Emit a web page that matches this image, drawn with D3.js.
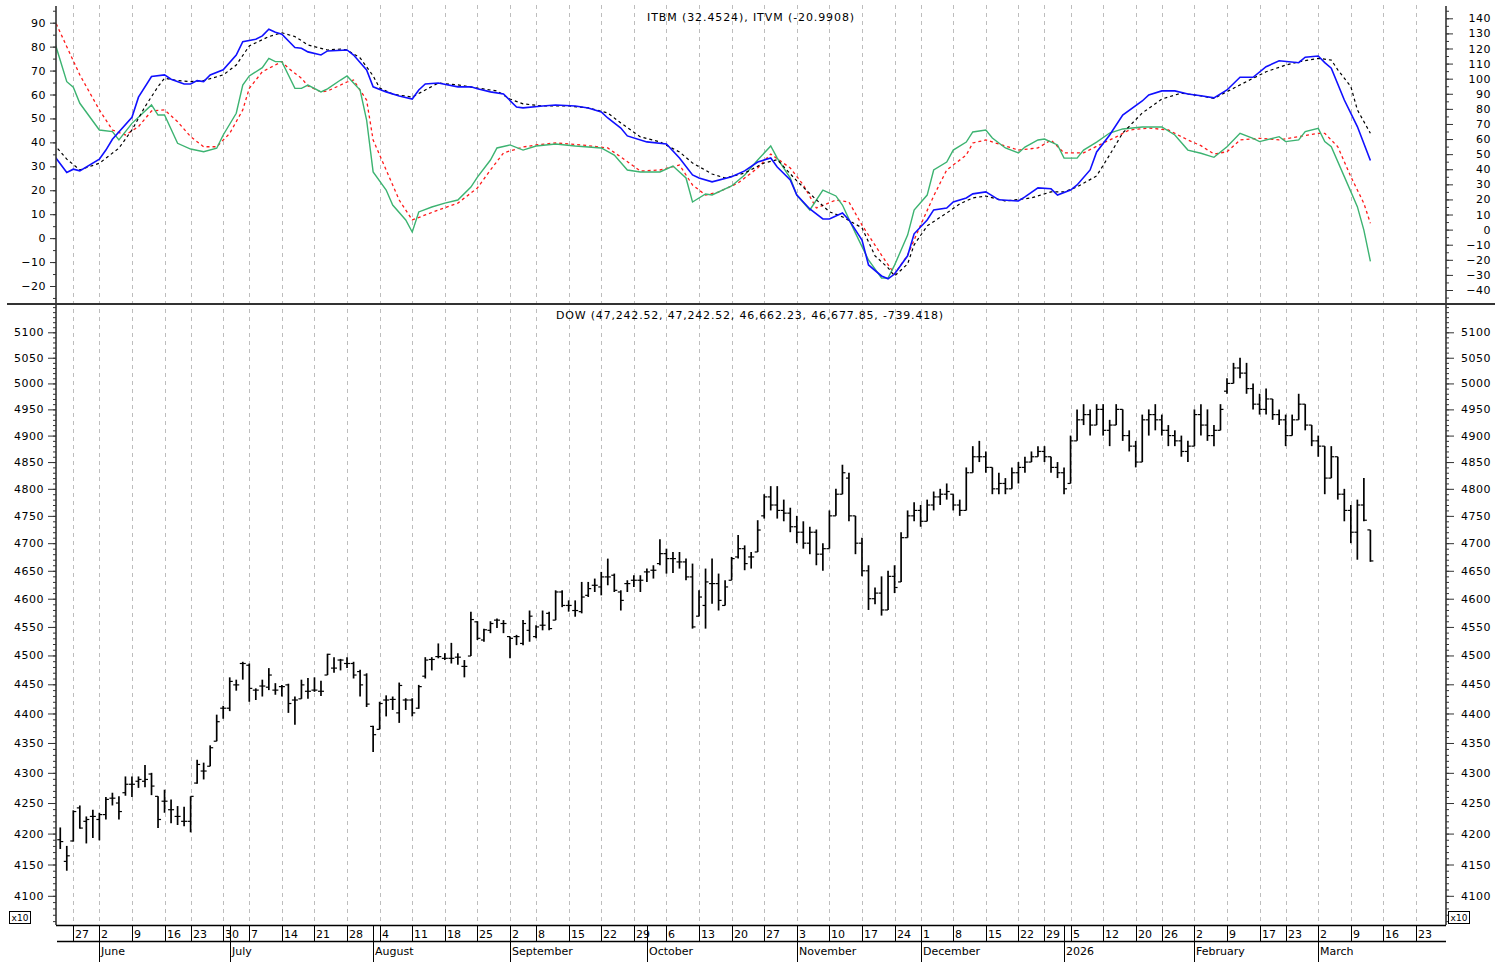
<!DOCTYPE html>
<html>
<head>
<meta charset="utf-8">
<script src="https://cdn.jsdelivr.net/npm/d3@7"></script>
<style>
  html, body { margin: 0; padding: 0; background: #fff; }
  svg { display: block; font-family: "DejaVu Sans", Verdana, sans-serif; }
</style>
</head>
<body>
<div id="chart"></div>
<script>
// ---- data (trading-day index 0 = 27 May) ----
const firstBarDay = -2;
const barOpen = [4190,4155,4188,4242,4220,4228,4223,4231,4258,4250,4267,4281,4286,4286,4298,4261,4253,4239,4228,4220,
  4220,4283,4303,4311,4353,4409,4409,4449,4486,4483,4440,4447,4445,4440,4446,4449,4423,4425,4438,4440,
  4438,4466,4478,4492,4486,4486,4472,4466,4378,4373,4423,4424,4401,4423,4423,4409,4464,4493,4498,4495,
  4495,4497,4481,4499,4559,4527,4544,4562,4556,4533,4533,4521,4544,4533,4553,4574,4562,4612,4588,4579,
  4577,4606,4624,4621,4639,4642,4612,4627,4633,4633,4648,4651,4663,4681,4672,4666,4666,4639,4569,4588,
  4627,4627,4588,4633,4675,4690,4675,4684,
  4750,4785,4770,4760,4755,4730,4720,4700,4720,4680,4690,4750,4790,4820,4750,4700,4650,4600,4610,4580,
  4640,4630,4710,4750,4760,4740,4770,4785,4790,4790,4770,4760,4830,4860,4860,4840,4800,4810,4800,4830,
  4840,4850,4860,4870,4860,4840,4830,4810,4890,4930,4940,4920,4950,4910,4920,4950,4900,4880,4850,4930,
  4940,4930,4910,4900,4890,4870,4880,4940,4920,4900,4910,4985,5000,5030,5020,4990,4960,4950,4970,4940,
  4930,4900,4930,4960,4920,4890,4880,4820,4860,4790,4760,4720,4770,4724.25];
const barHigh = [4210,4180,4238,4246,4228,4239,4234,4260,4267,4261,4294,4294,4294,4313,4300,4261,4272,4256,4245,4244,
  4261,4322,4317,4346,4398,4413,4462,4458,4489,4486,4443,4458,4478,4452,4449,4451,4429,4458,4461,4462,
  4456,4503,4497,4494,4497,4489,4475,4469,4379,4420,4431,4429,4453,4426,4426,4449,4497,4497,4521,4504,
  4522,4504,4492,4577,4560,4547,4560,4565,4562,4533,4536,4562,4579,4553,4579,4577,4615,4615,4597,4597,
  4630,4630,4636,4648,4672,4645,4615,4633,4642,4642,4654,4660,4707,4690,4684,4684,4672,4663,4615,4654,
  4672,4645,4633,4675,4715,4696,4684,4742,
  4790,4805,4805,4780,4765,4750,4740,4730,4725,4700,4760,4800,4845,4830,4750,4710,4660,4620,4640,4650,
  4660,4720,4760,4775,4770,4780,4795,4800,4810,4790,4780,4840,4880,4890,4870,4840,4830,4820,4840,4850,
  4860,4870,4880,4880,4860,4850,4840,4900,4950,4960,4950,4960,4960,4930,4960,4950,4910,4890,4940,4950,
  4960,4940,4920,4910,4900,4890,4950,4960,4950,4920,4960,5010,5040,5050,5040,5000,4980,4990,4970,4950,
  4940,4940,4980,4960,4920,4900,4880,4880,4860,4800,4770,4780,4820,4724.25];
const barLow = [4175,4140,4187,4208,4184,4193,4189,4223,4246,4223,4262,4260,4275,4276,4263,4209,4234,4217,4214,4212,
  4202,4282,4289,4311,4353,4391,4404,4439,4458,4420,4423,4429,4440,4432,4429,4401,4381,4425,4425,4437,
  4430,4466,4470,4474,4478,4460,4429,4411,4335,4373,4395,4406,4384,4406,4395,4408,4460,4474,4495,4492,
  4486,4484,4462,4499,4527,4524,4539,4548,4539,4495,4518,4518,4524,4530,4544,4544,4562,4585,4577,4568,
  4574,4603,4612,4606,4624,4612,4579,4612,4621,4612,4630,4636,4660,4645,4646,4654,4633,4547,4569,4547,
  4591,4579,4588,4633,4672,4651,4654,4684,
  4745,4760,4745,4740,4720,4700,4690,4680,4660,4650,4690,4750,4790,4740,4680,4640,4580,4590,4570,4580,
  4610,4630,4710,4740,4730,4740,4760,4770,4780,4760,4750,4760,4830,4850,4830,4790,4790,4790,4800,4810,
  4830,4850,4860,4850,4830,4820,4790,4810,4890,4920,4900,4920,4900,4880,4920,4890,4870,4840,4850,4900,
  4910,4900,4880,4880,4860,4850,4880,4900,4890,4880,4910,4980,5000,5010,4980,4950,4940,4940,4930,4920,
  4880,4900,4930,4910,4880,4860,4790,4820,4780,4740,4700,4670,4740,4666.22];
const barClose = [4187,4164,4236,4209,4223,4228,4231,4256,4258,4236,4281,4281,4289,4289,4278,4223,4253,4239,4228,4220,
  4261,4314,4303,4342,4386,4409,4455,4449,4486,4443,4440,4447,4466,4440,4446,4417,4423,4449,4438,4440,
  4438,4502,4478,4492,4486,4466,4449,4416,4364,4417,4423,4424,4448,4423,4401,4446,4492,4493,4498,4495,
  4495,4497,4481,4563,4530,4545,4556,4562,4556,4530,4533,4556,4569,4550,4553,4547,4612,4588,4588,4579,
  4603,4618,4624,4639,4639,4615,4597,4627,4633,4633,4648,4651,4681,4672,4672,4666,4639,4550,4603,4630,
  4627,4597,4621,4672,4690,4663,4675,4724,
  4785,4770,4760,4755,4730,4720,4700,4720,4680,4690,4750,4790,4830,4750,4700,4650,4600,4610,4580,4640,
  4620,4710,4750,4760,4740,4770,4785,4790,4795,4770,4760,4830,4860,4860,4840,4800,4810,4800,4830,4840,
  4850,4860,4870,4860,4840,4830,4800,4890,4930,4940,4920,4950,4910,4920,4950,4900,4880,4850,4930,4940,
  4930,4910,4900,4890,4870,4880,4940,4920,4900,4910,4950,5000,5030,5020,4990,4960,4950,4970,4940,4930,
  4900,4930,4960,4920,4890,4880,4820,4860,4790,4760,4720,4770,4742,4667.79];

// ITBM (blue, left scale) and its dashed signal (black)
const itbmDays = [-3,-1,0,1,4,5,6,9,10,12,14,15,17,18,19,20,21,23,25,26,28,29,30,31,32,34,35,36,38,39,42,43,45,46,48,50,52,53,54,56,59,61,62,64,66,68,69,72,74,77,79,81,82,84,85,88,91,93,95,96,98,101,103,105,107,108,110,111,113,115,116,118,119,121,122,124,125,126,128,129,131,132,134,135,137,138,140,142,145,146,148,150,151,153,154,156,157,159,161,164,165,167,169,171,173,175,177,179,181,183,185,188,189,191,192,193,195,197,199];
const itbmValues = [34.7,27.4,28.8,28.1,33.0,36.8,41.3,50.5,58.9,67.5,68.2,66.4,64.4,64.4,65.8,65.4,68.2,70.3,76.5,82.1,83.1,84.5,87.3,86.0,85.2,79.6,79.3,77.8,76.5,78.2,78.6,76.5,70.3,63.2,61.1,59.4,58.1,61.9,64.4,64.8,63.2,63.2,62.4,61.1,60.2,54.8,54.4,55.2,55.6,55.2,54.4,52.7,50.2,46.0,42.7,40.2,39.3,33.5,26.4,25.1,23.5,25.6,28.1,31.8,33.5,29.7,24.3,18.0,12.2,8.0,8.0,10.5,7.6,-0.8,-11.2,-15.8,-17.0,-15.0,-7.4,1.8,7.6,11.8,12.6,15.1,16.8,18.5,19.3,16.0,15.5,17.2,21.0,20.6,18.0,20.1,22.2,28.5,36.0,43.1,51.4,57.3,59.8,61.5,61.5,60.2,59.5,58.6,61.9,67.2,67.2,71.6,74.1,73.3,75.6,76.1,73.3,71.0,57.7,46.6,32.45];
const itbmSigDays = [-3,-1,1,4,7,9,11,13,14,16,18,20,23,25,27,30,32,34,35,36,39,41,42,44,46,47,49,52,54,56,59,62,65,67,69,72,76,79,82,84,87,90,93,95,98,100,103,106,108,111,114,116,118,121,123,125,126,128,129,131,134,136,138,140,143,147,150,152,154,157,159,161,164,167,170,173,175,178,181,183,186,188,191,193,194,196,197,199];
const itbmSigValues = [39.3,33.0,28.5,31.3,37.6,45.2,54.9,63.3,66.8,65.8,65.4,65.8,68.2,72.3,80.3,84.2,85.8,84.2,82.5,80.7,78.6,79.0,78.6,75.3,67.8,62.7,60.2,58.9,61.9,64.8,64.0,62.7,61.5,58.1,56.1,55.2,55.2,54.4,52.3,48.1,42.3,40.2,36.0,31.4,26.8,25.1,27.2,31.4,32.8,23.9,16.0,11.0,8.9,4.3,-7.4,-12.4,-15.8,-10.8,-2.8,5.1,10.5,14.3,16.8,17.6,15.5,16.8,19.3,19.3,21.4,26.0,34.8,43.9,52.3,58.1,60.6,59.4,58.4,62.6,66.8,69.5,72.3,73.7,75.1,74.4,70.3,63.3,53.6,43.8];

// ITVM (green, right scale) and its dashed signal (red)
const itvmDays = [-3,-1,0,1,4,6,7,9,12,13,14,16,18,20,22,23,25,26,27,29,30,31,32,34,35,36,38,39,41,42,44,45,46,48,49,51,52,53,55,57,59,61,62,64,65,67,69,71,74,77,81,83,85,87,90,92,94,95,97,98,101,103,105,107,108,110,111,113,115,117,118,120,122,124,125,126,128,129,131,132,134,135,137,138,140,141,143,145,146,148,149,151,152,154,155,157,159,161,164,167,169,171,173,175,177,179,181,182,185,186,188,189,191,192,193,195,197,198,199];
const itvmValues = [126.2,98.0,94.3,83.7,66.0,64.9,59.4,70.4,82.6,75.9,75.9,57.2,53.4,51.6,53.9,62.7,77.1,95.8,101.8,107.3,113.5,111.3,111.3,93.6,93.6,95.8,91.2,93.2,99.1,101.8,92.5,72.6,38.2,26.2,16.3,6.4,-1.6,11.7,15.0,17.6,19.6,28.2,34.8,46.1,54.1,56.1,52.7,55.4,56.7,55.4,54.1,49.4,39.5,38.2,38.2,42.1,34.2,18.3,23.6,23.0,28.9,36.2,46.1,55.4,47.4,34.2,22.9,13.0,26.2,22.3,16.3,-2.3,-20.1,-32.1,-32.1,-23.5,-3.6,13.0,22.9,39.5,44.8,52.7,58.0,64.7,66.0,60.7,54.1,50.8,54.7,59.4,60.0,56.1,47.4,47.4,52.7,58.0,64.0,66.7,68.0,68.0,62.7,52.7,50.6,47.9,54.9,63.8,60.5,58.3,61.6,58.3,59.4,64.9,67.1,58.3,54.9,35.1,15.2,-0.3,-20.99];
const itvmSigDays = [-3,-1,1,4,6,8,10,12,14,16,18,20,22,24,26,27,29,32,33,35,36,38,39,42,43,45,46,48,50,52,54,56,59,60,62,64,66,69,71,74,78,82,84,87,90,93,95,97,99,102,105,107,110,112,114,117,119,121,124,126,128,130,132,134,137,138,140,143,145,148,150,152,155,158,160,162,165,168,171,173,175,177,179,182,185,188,191,192,194,196,198,199];
const itvmSigValues = [140.0,121.2,102.5,79.3,66.0,62.7,68.2,78.6,79.3,71.5,61.6,54.9,54.9,63.8,79.3,93.6,104.6,111.3,106.9,100.3,95.2,91.2,91.8,97.8,99.1,85.8,59.4,39.5,19.6,6.4,9.7,13.0,17.6,20.9,27.6,39.5,50.8,54.7,56.1,57.4,56.1,54.1,48.1,38.8,39.5,42.8,29.6,22.9,24.9,30.9,40.8,50.1,40.8,29.6,14.3,19.6,18.3,3.0,-16.9,-29.5,-16.9,3.0,22.3,39.5,49.4,57.4,59.4,55.4,52.7,54.1,59.4,50.8,50.8,57.4,61.4,66.0,67.3,66.0,59.4,55.6,50.1,51.6,59.4,60.5,59.4,61.6,63.8,63.8,54.9,35.1,17.4,4.2];

// date axis
const weekDays = [0,4,9,14,18,23,27,32,37,42,47,52,57,62,67,71,76,81,86,91,96,101,106,111,116,121,126,130,135,140,145,149,153,158,163,167,172,177,182,186,191,196,201,206];
const weekLabels = ["27","2","9","16","23","30","7","14","21","28","4","11","18","25","2","8","15","22","29","6","13","20","27","3","10","17","24","1","8","15","22","29","5","12","20","26","2","9","17","23","2","9","16","23"];
const monthDays = [4,24,46,67,88,111,130,152,172,191];
const monthLabels = ["June","July","August","September","October","November","December","2026","February","March"];

const topTicksLeft = d3.range(-20, 91, 10);
const topTicksRight = d3.range(-40, 141, 10);
const priceTicks = d3.range(4100, 5101, 50);

const topTitle = "ITBM (32.4524), ITVM (-20.9908)";
const bottomTitle = "DOW (47,242.52, 47,242.52, 46,662.23, 46,677.85, -739.418)";

// ---- layout ----
const W = 1508, H = 962;
const pLeft = 56, pRight = 1446, pTop = 6, pSplit = 304, pBottom = 925;

const svg = d3.select("#chart").append("svg")
  .attr("width", W)
  .attr("height", H);

const x = d3.scaleLinear().domain([-2.654, 210.6]).range([pLeft, pRight]);
const yTopL = d3.scaleLinear().domain([-20, 90]).range([286, 22.7]);
const yTopR = d3.scaleLinear().domain([-40, 140]).range([290, 18.3]);
const yBot = d3.scaleLog().domain([4100, 5100]).range([895.8, 332.3]);

svg.append("clipPath").attr("id", "clipTop")
  .append("rect").attr("x", pLeft).attr("y", pTop).attr("width", pRight - pLeft).attr("height", pSplit - pTop);

// weekly dashed grid lines
svg.append("g")
  .selectAll("line")
  .data(weekDays)
  .enter().append("line")
  .attr("x1", d => Math.round(x(d)) + 0.5)
  .attr("x2", d => Math.round(x(d)) + 0.5)
  .attr("y1", 5)
  .attr("y2", pBottom)
  .attr("stroke", "#bdbdbd")
  .attr("stroke-dasharray", "4,4");

// titles
svg.append("text")
  .attr("x", 751).attr("y", 21)
  .attr("text-anchor", "middle")
  .style("font-size", "11px")
  .style("letter-spacing", "0.9px")
  .text(topTitle);

svg.append("text")
  .attr("x", 750).attr("y", 319)
  .attr("text-anchor", "middle")
  .style("font-size", "11px")
  .style("letter-spacing", "0.8px")
  .text(bottomTitle);

// indicator lines
function drawLine(days, values, y, color, width, dash) {
  const line = d3.line()
    .x((d, i) => x(days[i]))
    .y(d => y(d));
  svg.append("path")
    .datum(values)
    .attr("clip-path", "url(#clipTop)")
    .attr("fill", "none")
    .attr("stroke", color)
    .attr("stroke-width", width)
    .attr("stroke-dasharray", dash)
    .attr("d", line);
}
drawLine(itvmSigDays, itvmSigValues, yTopR, "#ff1a1a", 1.3, "3,3");
drawLine(itvmDays, itvmValues, yTopR, "#3cb371", 1.4, null);
drawLine(itbmSigDays, itbmSigValues, yTopL, "#000", 1.2, "3,3");
drawLine(itbmDays, itbmValues, yTopL, "#1010ff", 1.6, null);

// OHLC bars
const bars = svg.append("g").attr("stroke", "#000").attr("stroke-width", 1.7);
barOpen.forEach((o, i) => {
  const cx = x(firstBarDay + i);
  bars.append("line").attr("x1", cx).attr("x2", cx).attr("y1", yBot(barHigh[i])).attr("y2", yBot(barLow[i]));
  bars.append("line").attr("x1", cx - 3).attr("x2", cx).attr("y1", yBot(o)).attr("y2", yBot(o)).attr("stroke-width", 1.2);
  bars.append("line").attr("x1", cx).attr("x2", cx + 3).attr("y1", yBot(barClose[i])).attr("y2", yBot(barClose[i])).attr("stroke-width", 1.2);
});

// y axes
function styleAxis(g) {
  g.select(".domain").remove();
  g.selectAll("line").attr("stroke", "#333");
  g.selectAll("text").style("font-size", "11px").style("letter-spacing", "0.5px")
    .attr("fill", "#000").style("font-family", "DejaVu Sans, Verdana, sans-serif");
}
const topMinorL = d3.range(-25, 96, 5);
const topMinorR = d3.range(-45, 146, 5);
const priceMinor = d3.range(4060, 5151, 10).filter(v => yBot(v) > 306 && yBot(v) < 924);

svg.append("g").attr("transform", `translate(${pLeft},0)`)
  .call(d3.axisLeft(yTopL).tickValues(topMinorL).tickSize(3).tickFormat("")).call(styleAxis);
svg.append("g").attr("transform", `translate(${pLeft},0)`)
  .call(d3.axisLeft(yTopL).tickValues(topTicksLeft).tickSize(6).tickPadding(4)).call(styleAxis);

svg.append("g").attr("transform", `translate(${pRight},0)`)
  .call(d3.axisRight(yTopR).tickValues(topMinorR).tickSize(3).tickFormat("")).call(styleAxis);
svg.append("g").attr("transform", `translate(${pRight},0)`)
  .call(d3.axisRight(yTopR).tickValues(topTicksRight).tickSize(7)).call(styleAxis)
  .selectAll("text").attr("x", 45).attr("text-anchor", "end");

svg.append("g").attr("transform", `translate(${pLeft},0)`)
  .call(d3.axisLeft(yBot).tickValues(priceMinor).tickSize(3).tickFormat("")).call(styleAxis);
svg.append("g").attr("transform", `translate(${pLeft},0)`)
  .call(d3.axisLeft(yBot).tickValues(priceTicks).tickSize(8).tickPadding(4).tickFormat(d3.format("d"))).call(styleAxis);

svg.append("g").attr("transform", `translate(${pRight},0)`)
  .call(d3.axisRight(yBot).tickValues(priceMinor).tickSize(3).tickFormat("")).call(styleAxis);
svg.append("g").attr("transform", `translate(${pRight},0)`)
  .call(d3.axisRight(yBot).tickValues(priceTicks).tickSize(8).tickFormat(d3.format("d"))).call(styleAxis)
  .selectAll("text").attr("x", 45).attr("text-anchor", "end");

// frame lines
const frame = svg.append("g").attr("stroke", "#333").attr("stroke-width", 1.6);
frame.append("line").attr("x1", pLeft).attr("x2", pLeft).attr("y1", pTop).attr("y2", pBottom);
frame.append("line").attr("x1", pRight).attr("x2", pRight).attr("y1", pTop).attr("y2", pBottom);
frame.append("line").attr("x1", 7).attr("x2", 1495).attr("y1", pSplit).attr("y2", pSplit).attr("stroke-width", 2);

// date rows
const dates = svg.append("g");
dates.append("line").attr("x1", pLeft).attr("x2", pRight).attr("y1", pBottom + 0.5).attr("y2", pBottom + 0.5).attr("stroke", "#000").attr("stroke-width", 1.5);
dates.append("line").attr("x1", 57).attr("x2", pRight).attr("y1", 941.5).attr("y2", 941.5).attr("stroke", "#000").attr("stroke-width", 1.5);

dates.selectAll(".wk")
  .data(weekDays)
  .enter().append("line")
  .attr("class", "wk")
  .attr("x1", d => Math.round(x(d)) + 0.5)
  .attr("x2", d => Math.round(x(d)) + 0.5)
  .attr("y1", pBottom)
  .attr("y2", 941)
  .attr("stroke", "#000");

dates.selectAll(".wkl")
  .data(weekDays)
  .enter().append("text")
  .attr("class", "wkl")
  .attr("x", d => Math.round(x(d)) + 2)
  .attr("y", 938)
  .style("font-size", "11px")
  .text((d, i) => weekLabels[i]);

dates.selectAll(".mo")
  .data(monthDays)
  .enter().append("line")
  .attr("class", "mo")
  .attr("x1", d => Math.round(x(d)) + 0.5)
  .attr("x2", d => Math.round(x(d)) + 0.5)
  .attr("y1", d => weekDays.includes(d) ? 941 : pBottom)
  .attr("y2", H)
  .attr("stroke", "#000");

dates.selectAll(".mol")
  .data(monthDays)
  .enter().append("text")
  .attr("class", "mol")
  .attr("x", d => Math.round(x(d)) + 2)
  .attr("y", 955)
  .style("font-size", "11px")
  .text((d, i) => monthLabels[i]);

// x10 boxes
[9, 1448].forEach(bx => {
  svg.append("rect").attr("x", bx + 0.5).attr("y", 911.5).attr("width", 21).attr("height", 12)
    .attr("fill", "#fff").attr("stroke", "#000");
  svg.append("text").attr("x", bx + 11).attr("y", 921).attr("text-anchor", "middle")
    .style("font-size", "9px").text("x10");
});
</script>
</body>
</html>
